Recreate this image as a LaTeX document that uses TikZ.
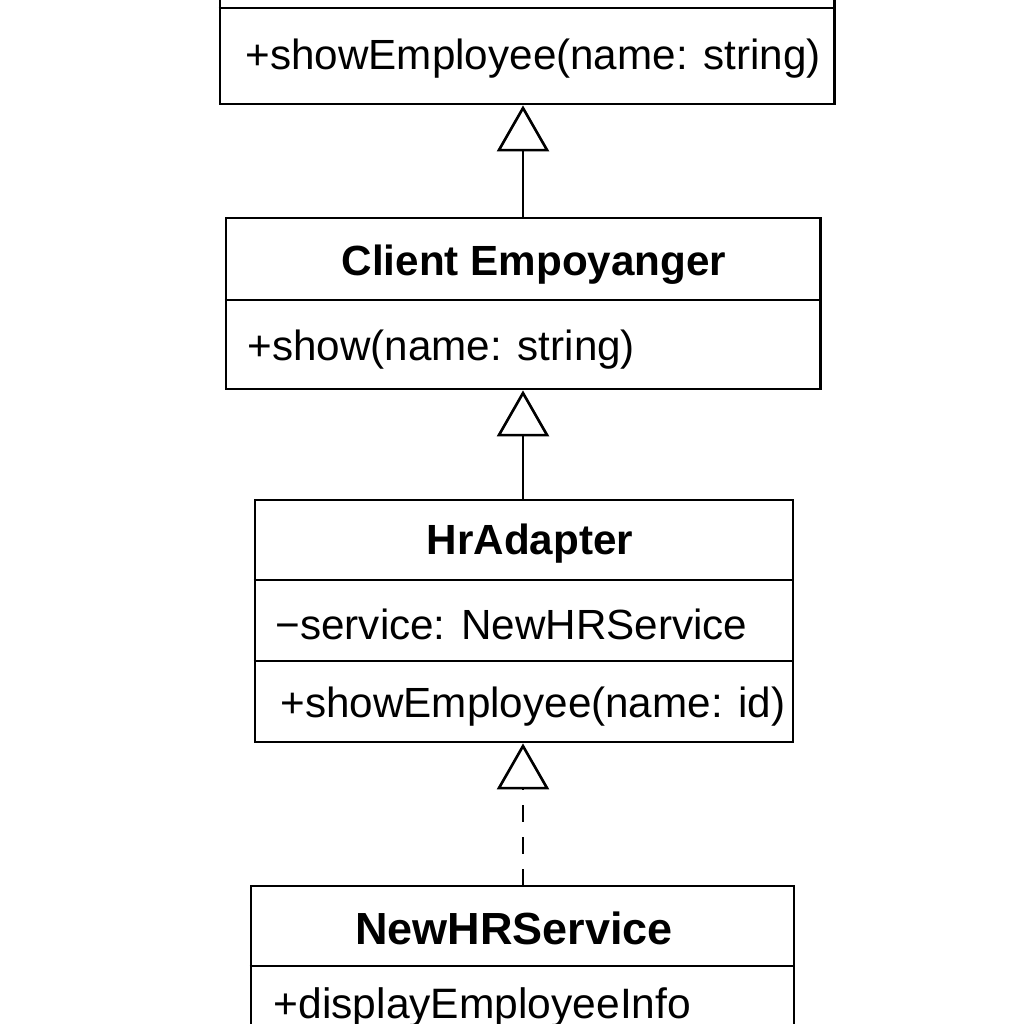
\documentclass[tikz,border=0pt]{standalone}
\usepackage{fontspec}
\setmainfont{Liberation Sans}
\usetikzlibrary{arrows.meta}
\begin{document}
\begin{tikzpicture}[x=0.01cm,y=-0.01cm,
  box/.style={draw,line width=0.75pt,inner sep=0pt},
  divider/.style={line width=0.75pt},
  title/.style={font=\fontsize{12}{14}\selectfont\bfseries,inner sep=0pt},
  member/.style={font=\fontsize{12}{14}\selectfont,inner sep=0pt,anchor=west},
  impl/.style={line width=0.75pt,-{Triangle[open,length=4.6mm,width=5.2mm,line width=0.75pt]}},
  dashedimpl/.style={impl,dash pattern=on 1.7mm off 1.5mm}]
\clip (0,0) rectangle (1024,1024);
\fill[white] (0,0) rectangle (1024,1024);
% Box 1 (top, cut off)
\node[box,minimum width=61.4mm,minimum height=16.4mm] (b1) at (527,22) {};
\draw[divider] (b1.west |- 0,8) -- (b1.east |- 0,8);
\node[member] (m1) at (245,59) {+showEmployee(name: string)};
% Box 2
\node[box,minimum width=59.4mm,minimum height=17.1mm] (b2) at (523,303.5) {};
\draw[divider] (b2.west |- 0,300) -- (b2.east |- 0,300);
\node[title] (t2) at (534,265) {Client Empoyanger};
\node[member] (m2) at (247,350) {+show(name: string)};
% Box 3
\node[box,minimum width=53.8mm,minimum height=24.2mm] (b3) at (524,621) {};
\draw[divider] (b3.west |- 0,580) -- (b3.east |- 0,580);
\draw[divider] (b3.west |- 0,661) -- (b3.east |- 0,661);
\node[title] (t3) at (530,544) {HrAdapter};
\node[member] (a3) at (275,624) {−service: NewHRService};
\node[member] (m3) at (280,707) {+showEmployee(name: id)};
% Box 4 (bottom, cut off)
\node[box,minimum width=54.3mm,minimum height=21.4mm] (b4) at (522.5,993) {};
\draw[divider] (b4.west |- 0,966) -- (b4.east |- 0,966);
\node[title,font=\fontsize{12.8}{15}\selectfont\bfseries] (t4) at (514,928) {NewHRService};
\node[member,font=\fontsize{12.1}{15}\selectfont] (m4) at (273,1007) {+displayEmployeeInfo};
% Connectors
\coordinate (c2) at (523,218);
\coordinate (c3) at (523,500);
\coordinate (c4) at (523,886);
\draw[impl] (c2) -- (c2 |- b1.south);
\draw[impl] (c3) -- (c3 |- b2.south);
\draw[dashedimpl] (c4) -- (c4 |- b3.south);
\end{tikzpicture}
\end{document}
